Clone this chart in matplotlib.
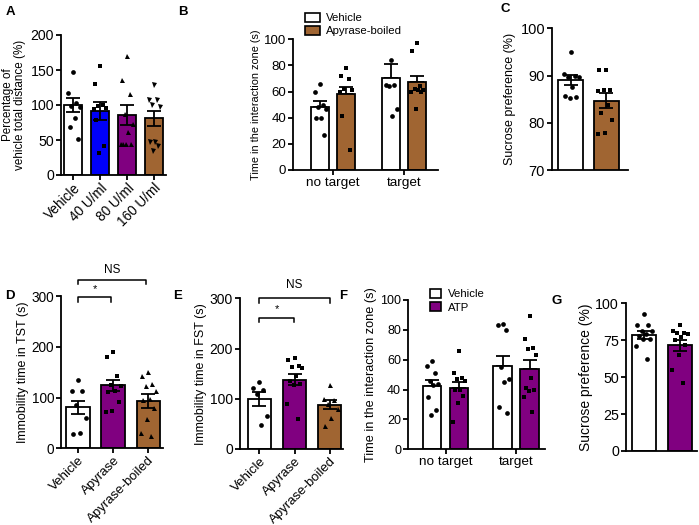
import matplotlib
matplotlib.use("Agg")
import matplotlib.pyplot as plt
from matplotlib.patches import Patch
import numpy as np

plt.rcParams['font.family'] = ['Liberation Sans', 'DejaVu Sans']

# ---------------- DATA ----------------
A_labels = ["Vehicle", "40 U/ml", "80 U/ml", "160 U/ml"]
A_means = [100, 91, 86, 81]
A_sem = [10, 13, 14, 11]
A_points = [[147, 117, 103, 98, 97, 82, 68, 51],
            [156, 130, 100, 98, 96, 94, 78, 42, 32],
            [170, 135, 116, 87, 73, 62, 45, 45, 45, 45],
            [128, 107, 107, 100, 97, 47, 47, 41, 35]]

B_groups = ["no target", "target"]
B_series = ["Vehicle", "Apyrase-boiled"]
B_veh_means = [48.5, 70.6]
B_veh_sem = [4.3, 10.3]
B_boil_means = [58.0, 67.1]
B_boil_sem = [5.7, 5.1]
B_veh_pts = [[66, 60, 50, 48, 47, 40, 40, 27], [84, 65, 65, 64, 47, 41]]
B_boil_pts = [[78, 72, 70, 62, 61, 60, 41, 15], [97, 91, 64, 62, 61, 61, 60, 60, 47]]

C_means = [89.1, 84.7]
C_sem = [1.1, 1.6]
C_points = [[95, 90.4, 89.8, 89.7, 89.6, 87.5, 85.7, 85.5, 85.3],
            [91.2, 91.2, 87, 86.9, 86.8, 83.8, 82, 80.6, 77.8, 77.7]]

D_labels = ["Vehicle", "Apyrase", "Apyrase-boiled"]
D_means = [81, 124, 93]
D_sem = [13, 11, 14]
D_points = [[135, 113, 112, 85, 60, 31, 29],
            [190, 180, 142, 125, 122, 112, 110, 92, 74, 72],
            [150, 142, 127, 122, 112, 98, 95, 80, 57, 30, 25]]

E_labels = ["Vehicle", "Apyrase", "Apyrase-boiled"]
E_means = [99, 138, 88]
E_sem = [14, 11, 9]
E_points = [[133, 122, 117, 110, 66, 48],
            [181, 178, 166, 164, 162, 145, 135, 130, 128, 89, 60],
            [128, 100, 98, 89, 80, 62, 46]]

F_groups = ["no target", "target"]
F_series = ["Vehicle", "ATP"]
F_veh_means = [42.6, 56.0]
F_veh_sem = [3.6, 6.5]
F_atp_means = [40.8, 53.8]
F_atp_sem = [4.5, 6.0]
F_veh_pts = [[59, 56, 51, 46, 44, 43, 35, 26, 23], [84, 83, 80, 55, 47, 45, 28, 24]]
F_atp_pts = [[66, 51, 48, 47, 46, 40, 40, 36, 31, 18], [89, 74, 68, 67, 63, 48, 41, 40, 39, 35, 25]]

G_means = [78.5, 71.5]
G_sem = [3.0, 3.7]
G_points = [[93, 85, 85, 81, 81, 79, 78, 76, 76, 71, 62],
            [85, 81, 80, 80, 79, 77, 75, 72, 65, 55, 46]]

# ---------------- STYLE ----------------
WHITE = "#FFFFFF"
BLUE = "#0000F8"
PURPLE = "#800080"
BROWN = "#A06532"
W, H = 699, 525

fig = plt.figure(figsize=(W / 100, H / 100), dpi=100)


def make_ax(left, right, top, bottom, xlim, ylim, yticks, tick_fs):
    ax = fig.add_axes([left / W, (H - bottom) / H, (right - left) / W, (bottom - top) / H])
    ax.set_xlim(*xlim)
    ax.set_ylim(*ylim)
    ax.set_yticks(yticks)
    for s in ("top", "right"):
        ax.spines[s].set_visible(False)
    for s in ("left", "bottom"):
        ax.spines[s].set_linewidth(1.3)
    ax.tick_params(axis="both", direction="out", length=3.5, width=1.3, labelsize=tick_fs, pad=1.5)
    ax.set_facecolor("none")
    return ax


def jitter_x(ax, x0, vals, dmin, maxw):
    """Scatter points horizontally inside the bar (GraphPad-like), avoiding overlaps."""
    t = ax.transData
    pxu = t.transform((1, 0))[0] - t.transform((0, 0))[0]
    ys = [t.transform((0, v))[1] for v in vals]
    placed = []
    offs = []
    step = dmin * 0.5
    for i, y in enumerate(ys):
        target = ((i * 0.618034 + 0.5) % 1.0 - 0.5) * 2 * maxw
        cands = [target]
        for k in range(1, 30):
            cands += [target + k * step, target - k * step]
        cands = [c for c in cands if abs(c) <= maxw] or [0.0]
        best = cands[0]
        for c in cands:
            if all((c - px) ** 2 + (y - py) ** 2 >= dmin ** 2 for px, py in placed):
                best = c
                break
        placed.append((best, y))
        offs.append(best)
    return [x0 + o / pxu for o in offs]


def bars(ax, xs, means, sems, colors, width, pts, markers, both=True):
    ax.bar(xs, means, width=width, color=colors, edgecolor="black", linewidth=1.3, zorder=2)
    for x, m, s in zip(xs, means, sems):
        if both:
            ax.errorbar([x], [m], yerr=[s], fmt="none", ecolor="black", elinewidth=1.3,
                        capsize=5, capthick=1.3, zorder=4)
        else:
            ax.errorbar([x], [m], yerr=[[0], [s]], fmt="none", ecolor="black", elinewidth=1.3,
                        capsize=5, capthick=1.3, zorder=1)
    pxu = ax.transData.transform((1, 0))[0] - ax.transData.transform((0, 0))[0]
    for x, p, mk in zip(xs, pts, markers):
        sz = {"o": 3.4, "s": 3.0, "^": 3.6, "v": 3.6}[mk]
        xx = jitter_x(ax, x, p, dmin=4.8, maxw=width * pxu * 0.36)
        ax.plot(xx, p, linestyle="none", marker=mk, markersize=sz, color="black",
                markeredgewidth=0, zorder=5, clip_on=False)


def xlabels45(ax, labels, fs):
    ax.set_xticks(range(len(labels)))
    ax.set_xticklabels(labels, rotation=45, ha="right", rotation_mode="anchor", fontsize=fs)
    ax.tick_params(axis="x", pad=1)


# ---------------- A ----------------
axA = make_ax(61, 166, 35, 175, (-0.46, 3.45), (0, 200), [0, 50, 100, 150, 200], 10.2)
bars(axA, range(4), A_means, A_sem, [WHITE, BLUE, PURPLE, BROWN], 0.68, A_points, ["o", "s", "^", "v"])
xlabels45(axA, A_labels, 9.8)
axA.set_ylabel("Percentage of\nvehicle total distance (%)", fontsize=8.4, linespacing=1.0, labelpad=3)

# ---------------- B ----------------
axB = make_ax(293, 438, 39.3, 170, (-0.563, 1.479), (0, 100), [0, 20, 40, 60, 80, 100], 9.5)
xg = np.arange(2)
bars(axB, xg - 0.185, B_veh_means, B_veh_sem, [WHITE, WHITE], 0.255, B_veh_pts, ["o", "o"], both=False)
bars(axB, xg + 0.185, B_boil_means, B_boil_sem, [BROWN, BROWN], 0.255, B_boil_pts, ["s", "s"], both=False)
axB.set_xticks(xg)
axB.set_xticklabels(B_groups, fontsize=9.7)
axB.set_ylabel("Time in the interaction zone (s)", fontsize=7.8, labelpad=2)
axB.legend(handles=[Patch(facecolor=WHITE, edgecolor="black", linewidth=1.2, label=B_series[0]),
                    Patch(facecolor=BROWN, edgecolor="black", linewidth=1.2, label=B_series[1])],
           loc="upper left", bbox_to_anchor=(305 / W, 1 - 13 / H), bbox_transform=fig.transFigure,
           frameon=False, fontsize=8.2, handlelength=1.35, handleheight=0.85, handletextpad=0.45,
           labelspacing=0.2, borderpad=0, borderaxespad=0)

# ---------------- C ----------------
axC = make_ax(552, 628, 28.3, 170, (-0.52, 1.61), (70, 100), [70, 80, 90, 100], 10.5)
bars(axC, range(2), C_means, C_sem, [WHITE, BROWN], 0.7, C_points, ["o", "s"])
axC.set_xticks([])
axC.set_ylabel("Sucrose preference (%)", fontsize=9, labelpad=3)

# ---------------- D ----------------
axD = make_ax(61, 163, 296, 448.3, (-0.49, 2.42), (0, 300), [0, 100, 200, 300], 9.8)
bars(axD, range(3), D_means, D_sem, [WHITE, PURPLE, BROWN], 0.67, D_points, ["o", "s", "^"])
xlabels45(axD, D_labels, 9.5)
axD.set_ylabel("Immobility time in TST (s)", fontsize=9, labelpad=2)

# ---------------- E ----------------
axE = make_ax(240, 343, 298.3, 449, (-0.55, 2.37), (0, 300), [0, 100, 200, 300], 10)
bars(axE, range(3), E_means, E_sem, [WHITE, PURPLE, BROWN], 0.65, E_points, ["o", "s", "^"])
xlabels45(axE, E_labels, 9.5)
axE.set_ylabel("Immobility time in FST (s)", fontsize=9, labelpad=2)


def bracket(ax, x1, x2, y, drop, text, ty, fs):
    ax.plot([x1, x1, x2, x2], [y - drop, y, y, y - drop], color="black", lw=1.1, clip_on=False, zorder=6)
    ax.text((x1 + x2) / 2, ty, text, ha="center", va="center", fontsize=fs, clip_on=False)


bracket(axD, 0, 1.93, 331, 8, "NS", 352, 8.5)
bracket(axD, 0, 0.95, 298, 10, "*", 314, 8)
bracket(axE, 0, 2, 300, 10, "NS", 327, 8.5)
bracket(axE, 0, 0.98, 261, 9, "*", 278, 8)

# ---------------- F ----------------
axF = make_ax(408, 545, 300, 449.3, (-0.53, 1.405), (0, 100), [0, 20, 40, 60, 80, 100], 9)
bars(axF, xg - 0.19, F_veh_means, F_veh_sem, [WHITE, WHITE], 0.265, F_veh_pts, ["o", "o"], both=False)
bars(axF, xg + 0.19, F_atp_means, F_atp_sem, [PURPLE, PURPLE], 0.265, F_atp_pts, ["s", "s"], both=False)
axF.set_xticks(xg)
axF.set_xticklabels(F_groups, fontsize=9.7)
axF.set_ylabel("Time in the interaction zone (s)", fontsize=9.2, labelpad=2)
axF.legend(handles=[Patch(facecolor=WHITE, edgecolor="black", linewidth=1.2, label=F_series[0]),
                    Patch(facecolor=PURPLE, edgecolor="black", linewidth=1.2, label=F_series[1])],
           loc="upper left", bbox_to_anchor=(430 / W, 1 - 289 / H), bbox_transform=fig.transFigure,
           frameon=False, fontsize=8.2, handlelength=1.0, handleheight=0.85, handletextpad=0.6,
           labelspacing=0.25, borderpad=0, borderaxespad=0)

# ---------------- G ----------------
axG = make_ax(626, 697, 303.3, 451, (-0.51, 1.49), (0, 100), [0, 25, 50, 75, 100], 10.3)
bars(axG, range(2), G_means, G_sem, [WHITE, PURPLE], 0.68, G_points, ["o", "s"])
axG.set_xticks([])
axG.set_ylabel("Sucrose preference (%)", fontsize=10, labelpad=2)

# ---------------- panel letters ----------------
for lab, x, y in [("A", 10, 12), ("B", 183, 12), ("C", 505, 9), ("D", 10, 296),
                  ("E", 178, 296), ("F", 343, 296), ("G", 557, 301)]:
    fig.text(x / W, 1 - y / H, lab, fontsize=9.5, fontweight="bold", ha="center", va="center")

fig.savefig("out.png", dpi=100)
